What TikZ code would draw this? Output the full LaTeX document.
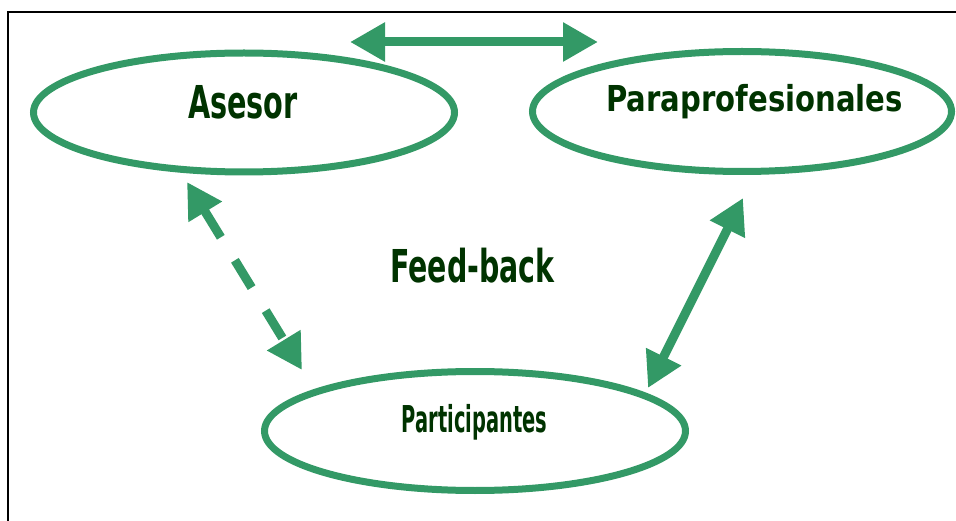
\documentclass[tikz,border=0pt]{standalone}
\usepackage{fontspec}
\setmainfont{DejaVu Sans}
\usepackage{graphicx}
\usetikzlibrary{arrows.meta,shapes.geometric}
\definecolor{rolegreen}{RGB}{51,153,102}
\definecolor{textgreen}{RGB}{0,51,0}
\tikzset{
  role/.style={ellipse,draw=rolegreen,line width=7pt,inner sep=0pt,minimum width=421pt,minimum height=119pt},
  link/.style={line width=9pt,color=rolegreen,{Triangle[length=35pt,width=37pt]}-{Triangle[length=35pt,width=37pt]}},
  rolename/.style={text=textgreen,font=\bfseries,anchor=base,inner sep=0pt}
}
\begin{document}
\begin{tikzpicture}[x=1pt,y=-1pt]
            \useasboundingbox (0,0) rectangle (956,521);
            % frame
            \draw [line width=1.5pt, black] (8,521) -- (8,12) -- (956,12);
            % Asesor top left
            \node [role] (asesor) at (244,112.5) {};
            \node [rolename] (asesortxt) at (243,119) {\fontsize{45.3pt}{47pt}\selectfont\scalebox{0.634}[1]{Asesor}};
            % Paraprofesionales top right
            \node [role,minimum width=419pt,minimum height=120pt] (para) at (742,111.5) {};
            \node [rolename] (paratxt) at (754.5,112) {\fontsize{35.7pt}{37pt}\selectfont\scalebox{0.815}[1]{Paraprofesionales}};
            % Participantes bottom
            \node [role] (part) at (475,431) {};
            \node [rolename] (parttxt) at (474.5,432) {\fontsize{37pt}{39pt}\selectfont\scalebox{0.525}[1]{Participantes}};
            % Feed-back middle
            \node [rolename] (feedback) at (472.5,283) {\fontsize{45.3pt}{47pt}\selectfont\scalebox{0.628}[1]{Feed-back}};
            % arrow ends
            \coordinate (topL) at (350,42);
            \coordinate (topR) at (598,42);
            \coordinate (dashA) at (187,182);
            \coordinate (dashB) at (302,370);
            \coordinate (sideA) at (743,198);
            \coordinate (sideB) at (648,388);
            % arrows
            \draw [link] (topL) -- (topR);
            \draw [link,dash pattern=on 32pt off 27pt] (dashA) -- (dashB);
            \draw [link] (sideA) -- (sideB);
\end{tikzpicture}
\end{document}
